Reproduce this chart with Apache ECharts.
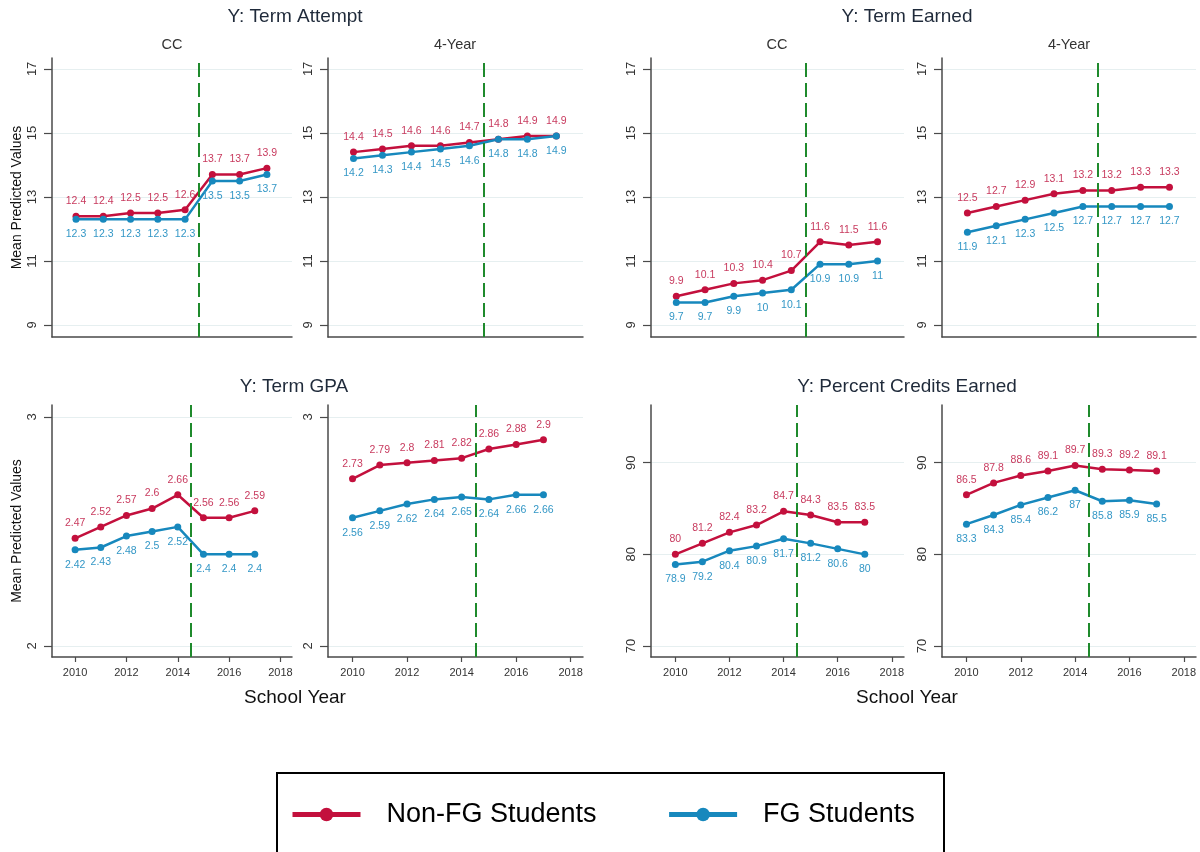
<!DOCTYPE html>
<html>
<head>
<meta charset="utf-8">
<script src="https://cdn.jsdelivr.net/npm/echarts@6/dist/echarts.min.js"></script>
<style>
  html, body { margin: 0; padding: 0; background: #fff; }
  #chart { width: 1200px; height: 852px; }
</style>
</head>
<body>
<div id="chart"></div>
<script>
// School years on the x axis and the policy cutoff marked by the dashed line
const YEARS = [2010, 2011, 2012, 2013, 2014, 2015, 2016, 2017];
const POLICY_CUTOFF = 2014.5;
const GROUP_NAMES = ['Non-FG Students', 'FG Students'];

// Term credits attempted
const attemptCC_nonFG = [12.4, 12.4, 12.5, 12.5, 12.6, 13.7, 13.7, 13.9];
const attemptCC_fg    = [12.3, 12.3, 12.3, 12.3, 12.3, 13.5, 13.5, 13.7];
const attempt4Y_nonFG = [14.4, 14.5, 14.6, 14.6, 14.7, 14.8, 14.9, 14.9];
const attempt4Y_fg    = [14.2, 14.3, 14.4, 14.5, 14.6, 14.8, 14.8, 14.9];

// Term credits earned
const earnedCC_nonFG = [9.9, 10.1, 10.3, 10.4, 10.7, 11.6, 11.5, 11.6];
const earnedCC_fg    = [9.7, 9.7, 9.9, 10, 10.1, 10.9, 10.9, 11];
const earned4Y_nonFG = [12.5, 12.7, 12.9, 13.1, 13.2, 13.2, 13.3, 13.3];
const earned4Y_fg    = [11.9, 12.1, 12.3, 12.5, 12.7, 12.7, 12.7, 12.7];

// Term GPA
const gpaCC_nonFG = [2.47, 2.52, 2.57, 2.6, 2.66, 2.56, 2.56, 2.59];
const gpaCC_fg    = [2.42, 2.43, 2.48, 2.5, 2.52, 2.4, 2.4, 2.4];
const gpa4Y_nonFG = [2.73, 2.79, 2.8, 2.81, 2.82, 2.86, 2.88, 2.9];
const gpa4Y_fg    = [2.56, 2.59, 2.62, 2.64, 2.65, 2.64, 2.66, 2.66];

// Percent of attempted credits earned
const pctCC_nonFG = [80, 81.2, 82.4, 83.2, 84.7, 84.3, 83.5, 83.5];
const pctCC_fg    = [78.9, 79.2, 80.4, 80.9, 81.7, 81.2, 80.6, 80];
const pct4Y_nonFG = [86.5, 87.8, 88.6, 89.1, 89.7, 89.3, 89.2, 89.1];
const pct4Y_fg    = [83.3, 84.3, 85.4, 86.2, 87, 85.8, 85.9, 85.5];

// Tick labels
const YTICKS_CREDITS = [9, 11, 13, 15, 17];
const YTICKS_GPA = [2, 3];
const YTICKS_PCT = [70, 80, 90];
const XTICKS = [2010, 2012, 2014, 2016, 2018];

// Text
const TITLES = ['Y: Term Attempt', 'Y: Term Earned', 'Y: Term GPA', 'Y: Percent Credits Earned'];
const SECTORS = ['CC', '4-Year'];
const Y_NAME = 'Mean Predicted Values';
const X_NAME = 'School Year';

// ---- styling ----
const FONT = '"Liberation Sans", Arial, Helvetica, sans-serif';
const RED = '#c3103d';
const BLUE = '#1788bd';
const RED_LABEL = '#c83a5e';
const BLUE_LABEL = '#3397c6';
const AXIS_COLOR = '#4a4a4a';
const GRID_COLOR = '#e6eff0';
const CUT_COLOR = '#1f8a2c';
const TEXT_DARK = '#1f2a3a';

// Panel layout: one entry per small plot
const TOP = { top: 58, height: 279, ymin: 8.625, ymax: 17.34, xmin: 2009.12, xmax: 2017.92, yticks: YTICKS_CREDITS, xlabels: false };
const BOT_GPA = { top: 405, height: 252, ymin: 1.952, ymax: 3.052, xmin: 2009.1, xmax: 2018.45, yticks: YTICKS_GPA, xlabels: true };
const BOT_PCT = { top: 405, height: 252, ymin: 68.8, ymax: 96.3, xmin: 2009.1, xmax: 2018.45, yticks: YTICKS_PCT, xlabels: true };
const COLS = [{ left: 52, width: 240 }, { left: 328, width: 255 }, { left: 651, width: 253 }, { left: 942, width: 254 }];

const panels = [
  Object.assign({}, TOP, COLS[0], { a: attemptCC_nonFG, b: attemptCC_fg, yName: true }),
  Object.assign({}, TOP, COLS[1], { a: attempt4Y_nonFG, b: attempt4Y_fg }),
  Object.assign({}, TOP, COLS[2], { a: earnedCC_nonFG, b: earnedCC_fg }),
  Object.assign({}, TOP, COLS[3], { a: earned4Y_nonFG, b: earned4Y_fg }),
  Object.assign({}, BOT_GPA, COLS[0], { a: gpaCC_nonFG, b: gpaCC_fg, yName: true }),
  Object.assign({}, BOT_GPA, COLS[1], { a: gpa4Y_nonFG, b: gpa4Y_fg }),
  Object.assign({}, BOT_PCT, COLS[2], { a: pctCC_nonFG, b: pctCC_fg }),
  Object.assign({}, BOT_PCT, COLS[3], { a: pct4Y_nonFG, b: pct4Y_fg })
];

const grids = [], xAxes = [], yAxes = [], series = [];

panels.forEach((p, i) => {
  grids.push({ left: p.left, top: p.top, width: p.width, height: p.height, containLabel: false });

  xAxes.push({
    type: 'value', gridIndex: i, min: p.xmin, max: p.xmax,
    axisLine: { show: true, onZero: false, lineStyle: { color: AXIS_COLOR, width: 1.5 } },
    axisTick: { show: p.xlabels, customValues: XTICKS, length: 5, lineStyle: { color: AXIS_COLOR, width: 1.2 } },
    axisLabel: {
      show: p.xlabels, customValues: XTICKS, fontSize: 11, color: '#333', margin: 10,
      fontFamily: FONT, formatter: v => String(v)
    },
    splitLine: { show: false }
  });

  yAxes.push({
    type: 'value', gridIndex: i, min: p.ymin, max: p.ymax,
    name: p.yName ? Y_NAME : '', nameLocation: 'middle', nameGap: 28,
    nameTextStyle: { fontSize: 14, color: '#111', fontFamily: FONT },
    axisLine: { show: true, lineStyle: { color: AXIS_COLOR, width: 1.5 } },
    axisTick: { show: true, customValues: p.yticks, length: 8, lineStyle: { color: AXIS_COLOR, width: 1.2 } },
    axisLabel: {
      show: true, customValues: p.yticks, rotate: 90, fontSize: 13, color: '#333', margin: 13,
      fontFamily: FONT, formatter: v => String(v)
    },
    splitLine: { show: true, lineStyle: { color: GRID_COLOR, width: 1.2 } }
  });

  const toPoints = vals => YEARS.map((yr, k) => [yr, vals[k]]);
  const lineSeries = (name, vals, color, labelColor, pos) => ({
    name, type: 'line', xAxisIndex: i, yAxisIndex: i,
    data: toPoints(vals),
    symbol: 'circle', symbolSize: 7,
    lineStyle: { color, width: 2.5 },
    itemStyle: { color },
    label: {
      show: true, position: pos, distance: 6,
      fontSize: 10.5, color: labelColor, fontFamily: FONT,
      formatter: d => String(d.value[1])
    },
    emphasis: { disabled: true },
    animation: false
  });

  const red = lineSeries(GROUP_NAMES[0], p.a, RED, RED_LABEL, 'top');
  red.markLine = {
    silent: true, symbol: ['none', 'none'], label: { show: false },
    lineStyle: { color: CUT_COLOR, type: [14, 6], width: 2 },
    data: [{ xAxis: POLICY_CUTOFF }],
    animation: false
  };
  series.push(red);
  series.push(lineSeries(GROUP_NAMES[1], p.b, BLUE, BLUE_LABEL, 'bottom'));
});

const text = (str, x, y, size, color) => ({
  type: 'text', x, y, silent: true,
  style: { text: str, x: 0, y: 0, align: 'center', verticalAlign: 'middle', fill: color, font: `${size}px ${FONT}` }
});

const graphics = [
  text(TITLES[0], 295, 17, 19, TEXT_DARK),
  text(TITLES[1], 907, 17, 19, TEXT_DARK),
  text(TITLES[2], 294, 387, 19, TEXT_DARK),
  text(TITLES[3], 907, 387, 19, TEXT_DARK),
  text(SECTORS[0], 172, 45, 14.5, '#333'),
  text(SECTORS[1], 455, 45, 14.5, '#333'),
  text(SECTORS[0], 777, 45, 14.5, '#333'),
  text(SECTORS[1], 1069, 45, 14.5, '#333'),
  text(X_NAME, 295, 698, 19, '#111'),
  text(X_NAME, 907, 698, 19, '#111'),
  {
    type: 'rect', silent: true, z: -1,
    shape: { x: 277, y: 773, width: 667, height: 110 },
    style: { fill: '#fff', stroke: '#000', lineWidth: 2 }
  }
];

const chart = echarts.init(document.getElementById('chart'), null, { renderer: 'canvas' });
chart.setOption({
  backgroundColor: '#fff',
  animation: false,
  textStyle: { fontFamily: FONT },
  grid: grids,
  xAxis: xAxes,
  yAxis: yAxes,
  series,
  legend: {
    data: GROUP_NAMES,
    left: 290, top: 801, padding: 0,
    itemWidth: 68, itemHeight: 17, itemGap: 70,
    lineStyle: { width: 5 },
    textStyle: { fontSize: 27, color: '#000', fontFamily: FONT, padding: [0, 0, 0, 21] },
    selectedMode: false,
    z: 10
  },
  graphic: graphics
});
</script>
</body>
</html>
